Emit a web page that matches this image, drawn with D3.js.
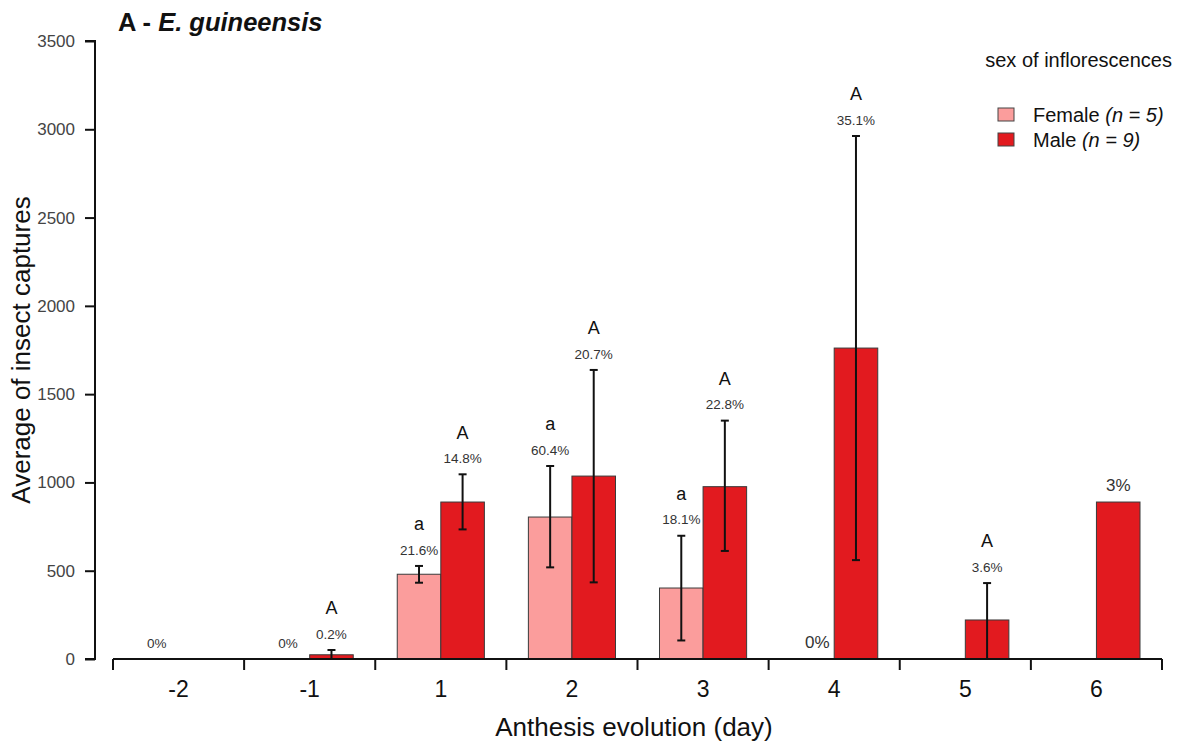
<!DOCTYPE html>
<html>
<head>
<meta charset="utf-8">
<script src="https://cdn.jsdelivr.net/npm/d3@7"></script>
<style>
  html, body { margin: 0; padding: 0; background: #fff; }
  svg { display: block; font-family: "Liberation Sans", Arial, sans-serif; }
</style>
</head>
<body>
<svg id="chart" width="1178" height="745"></svg>
<script>
// Anthesis day categories
const days = ["-2", "-1", "1", "2", "3", "4", "5", "6"];

// Female inflorescences: mean captures and error bar bounds
const femaleMean = [0, 0, 480, 804, 402, 0, 0, 0];
const femaleLow  = [null, null, 432, 519, 105, null, null, null];
const femaleHigh = [null, null, 527, 1093, 698, null, null, null];
const femalePct  = ["0%", "0%", "21.6%", "60.4%", "18.1%", "0%", "", ""];
const femaleLetter = ["", "", "a", "a", "a", "", "", ""];

// Male inflorescences: mean captures and error bar bounds
const maleMean = [0, 24, 889, 1036, 976, 1761, 221, 889];
const maleLow  = [null, 0, 734, 434, 612, 560, 0, null];
const maleHigh = [null, 51, 1046, 1637, 1350, 2962, 430, null];
const malePct  = ["", "0.2%", "14.8%", "20.7%", "22.8%", "35.1%", "3.6%", "3%"];
const maleLetter = ["", "A", "A", "A", "A", "A", "A", ""];

const yTicks = [0, 500, 1000, 1500, 2000, 2500, 3000, 3500];
const sexes = ["Female", "Male"];
const legendN = { Female: "5", Male: "9" };

const colors = { Female: "#fb9d9c", Male: "#e21a1f" };

const svg = d3.select("#chart");

const x0 = d3.scaleBand().domain(days).range([113, 1162]).paddingInner(0).paddingOuter(0);
const x1 = d3.scaleBand().domain(sexes).range([22, x0.bandwidth() - 22]).padding(0);
const y = d3.scaleLinear().domain([0, 3500]).range([659, 41]);

// Build per-bar records
const bars = [];
days.forEach((d, i) => {
  bars.push({ day: d, sex: "Female", v: femaleMean[i], lo: femaleLow[i], hi: femaleHigh[i], pct: femalePct[i], letter: femaleLetter[i] });
  bars.push({ day: d, sex: "Male", v: maleMean[i], lo: maleLow[i], hi: maleHigh[i], pct: malePct[i], letter: maleLetter[i] });
});

// Stand-alone labels on days 4 and 6 use a larger font
const largeLabels = new Set(["4|Female", "6|Male"]);

const g = svg.append("g");

// Bars
g.selectAll("rect.bar")
  .data(bars.filter(b => b.v > 0))
  .join("rect")
  .attr("class", "bar")
  .attr("x", b => x0(b.day) + x1(b.sex))
  .attr("width", x1.bandwidth())
  .attr("y", b => y(b.v))
  .attr("height", b => y(0) - y(b.v))
  .attr("fill", b => colors[b.sex])
  .attr("stroke", "#3a3a3a")
  .attr("stroke-width", 1);

// Error bars
const eb = bars.filter(b => b.hi != null);
const cx = b => x0(b.day) + x1(b.sex) + x1.bandwidth() / 2;
const capW = 4;
const eg = g.append("g").attr("stroke", "#111").attr("stroke-width", 2);
eg.selectAll("line.v").data(eb).join("line")
  .attr("x1", cx).attr("x2", cx)
  .attr("y1", b => y(b.lo)).attr("y2", b => y(b.hi));
eg.selectAll("line.t").data(eb).join("line")
  .attr("x1", b => cx(b) - capW).attr("x2", b => cx(b) + capW)
  .attr("y1", b => y(b.hi)).attr("y2", b => y(b.hi));
eg.selectAll("line.b").data(eb).join("line")
  .attr("x1", b => cx(b) - capW).attr("x2", b => cx(b) + capW)
  .attr("y1", b => y(b.lo)).attr("y2", b => y(b.lo));

// Percentage and significance labels
const topOf = b => y(b.hi != null ? b.hi : b.v);
const isLarge = b => largeLabels.has(b.day + "|" + b.sex);
g.selectAll("text.pct").data(bars.filter(b => b.pct)).join("text")
  .attr("class", "pct")
  .attr("x", b => cx(b) + (isLarge(b) && b.sex === "Female" ? 5 : 0))
  .attr("y", b => topOf(b) - (isLarge(b) ? 17 : 16))
  .attr("dy", "0.35em")
  .attr("text-anchor", "middle")
  .attr("font-size", b => isLarge(b) ? 17 : 13.5)
  .attr("fill", "#333")
  .text(b => b.pct);

g.selectAll("text.letter").data(bars.filter(b => b.letter)).join("text")
  .attr("class", "letter")
  .attr("x", cx)
  .attr("y", b => topOf(b) - 42)
  .attr("dy", "0.35em")
  .attr("text-anchor", "middle")
  .attr("font-size", 18)
  .attr("fill", "#111")
  .text(b => b.letter);

// Y axis
const yAxis = d3.axisLeft(y).tickValues(yTicks).tickSize(10).tickPadding(10).tickFormat(d3.format("d"));
const ya = svg.append("g").attr("transform", "translate(95,0)").call(yAxis);
ya.select(".domain").attr("d", "M-10,41H0V659H-10").attr("stroke", "#111").attr("stroke-width", 2).attr("fill", "none");
ya.selectAll(".tick line").attr("stroke", "#111").attr("stroke-width", 2);
ya.selectAll(".tick text").attr("font-size", 17).attr("fill", "#444").attr("font-family", "Liberation Sans, Arial, sans-serif");

// X axis: baseline with ticks at group boundaries
const xa = svg.append("g");
xa.append("line").attr("x1", 113).attr("x2", 1162).attr("y1", y(0)).attr("y2", y(0))
  .attr("stroke", "#111").attr("stroke-width", 2);
const bounds = days.map(d => x0(d)).concat([x0(days[days.length - 1]) + x0.bandwidth()]);
xa.selectAll("line.tk").data(bounds).join("line")
  .attr("x1", d => d).attr("x2", d => d)
  .attr("y1", y(0)).attr("y2", y(0) + 11)
  .attr("stroke", "#111").attr("stroke-width", 2);
xa.selectAll("text.xl").data(days).join("text")
  .attr("x", d => x0(d) + x0.bandwidth() / 2)
  .attr("y", 689)
  .attr("dy", "0.35em")
  .attr("text-anchor", "middle")
  .attr("font-size", 23)
  .attr("fill", "#111")
  .text(d => d);

// Axis titles
svg.append("text").attr("x", 634).attr("y", 727).attr("dy", "0.35em")
  .attr("text-anchor", "middle").attr("font-size", 26).attr("fill", "#111")
  .text("Anthesis evolution (day)");
svg.append("text").attr("transform", "translate(21,350) rotate(-90)").attr("dy", "0.35em")
  .attr("text-anchor", "middle").attr("font-size", 26).attr("fill", "#111")
  .text("Average of insect captures");

// Title
const title = svg.append("text").attr("x", 118).attr("y", 22).attr("dy", "0.35em")
  .attr("font-size", 25.5).attr("font-weight", "bold").attr("fill", "#111");
title.append("tspan").text("A - ");
title.append("tspan").attr("font-style", "italic").text("E. guineensis");

// Legend
svg.append("text").attr("x", 1172).attr("y", 60).attr("dy", "0.35em")
  .attr("text-anchor", "end").attr("font-size", 20).attr("fill", "#111")
  .text("sex of inflorescences");
const lg = svg.append("g").selectAll("g").data(sexes).join("g")
  .attr("transform", (d, i) => `translate(998,${108 + i * 25})`);
lg.append("rect").attr("width", 16).attr("height", 13)
  .attr("fill", d => colors[d]).attr("stroke", "#444").attr("stroke-width", 1);
const lt = lg.append("text").attr("x", 35).attr("y", 6.5).attr("dy", "0.35em")
  .attr("font-size", 20).attr("fill", "#111");
lt.append("tspan").text(d => d + " ");
lt.append("tspan").attr("font-style", "italic").text(d => "(n = " + legendN[d] + ")");
</script>
</body>
</html>
